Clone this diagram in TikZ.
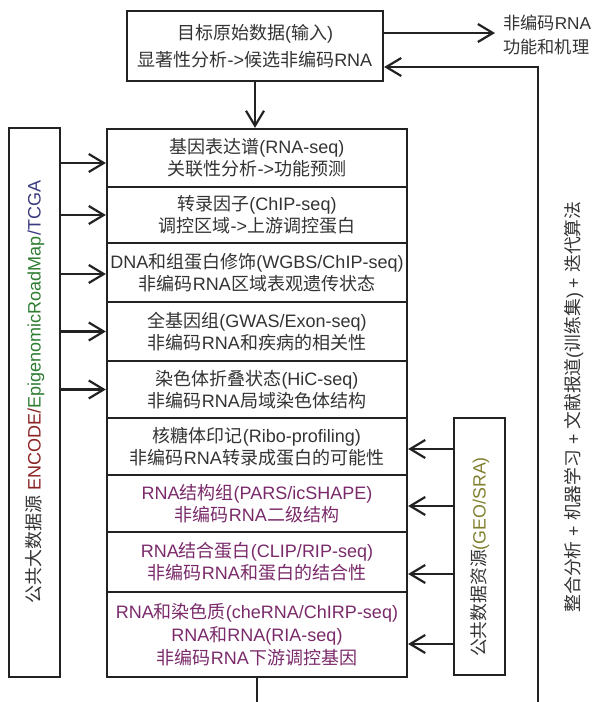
\documentclass[tikz,border=0pt]{standalone}
\usepackage{fontspec}
\setmainfont{Liberation Sans}
\newfontfamily\cjkf{Noto Sans CJK SC}
\usetikzlibrary{arrows.meta,calc}
\definecolor{txt}{HTML}{333333}
\definecolor{pur}{HTML}{7A2A6A}
\definecolor{enc}{HTML}{8B2323}
\definecolor{epi}{HTML}{2E7D32}
\definecolor{tcg}{HTML}{3B3B80}
\definecolor{geoc}{HTML}{7F7F2E}
\definecolor{ln}{HTML}{222222}
\newcommand\C[1]{{\cjkf #1}}
\begin{document}
\begin{tikzpicture}[x=1pt,y=-1pt,
  box/.style={draw=ln,line width=2.2pt,inner sep=0pt,align=center,text=txt,font=\fontsize{18}{22}\selectfont},
  lbl/.style={inner sep=0pt,align=center,text=txt,font=\fontsize{17.8}{22}\selectfont},
  arr/.style={draw=ln,line width=2.2pt,-{Straight Barb[length=15pt,width=18pt]}},
  conn/.style={draw=ln,line width=2.2pt}]
\useasboundingbox (0,0) rectangle (594,702);

% top box
\node[box,minimum width=256pt,minimum height=70pt,font=\fontsize{18}{27}\selectfont] (top) at (255,46)
  {\C{目标原始数据}(\C{输入})\\\C{显著性分析}->\C{候选非编码}RNA};

% output text
\node[lbl,anchor=west,align=left,font=\fontsize{17.2}{24}\selectfont] (out) at (503,35)
  {\C{非编码}RNA\\\C{功能和机理}};

% column rows
\node[box,minimum width=300pt,minimum height=58pt] (r1) at (257,158)
  {\C{基因表达谱}(RNA-seq)\\\C{关联性分析}->\C{功能预测}};
\node[box,minimum width=300pt,minimum height=56pt] (r2) at (257,215)
  {\C{转录因子}(ChIP-seq)\\\C{调控区域}->\C{上游调控蛋白}};
\node[box,minimum width=300pt,minimum height=59pt] (r3) at (257,272.5)
  {DNA\C{和组蛋白修饰}(WGBS/ChIP-seq)\\\C{非编码}RNA\C{区域表观遗传状态}};
\node[box,minimum width=300pt,minimum height=59pt] (r4) at (257,331.5)
  {\C{全基因组}(GWAS/Exon-seq)\\\C{非编码}RNA\C{和疾病的相关性}};
\node[box,minimum width=300pt,minimum height=57pt] (r5) at (257,389.5)
  {\C{染色体折叠状态}(HiC-seq)\\\C{非编码}RNA\C{局域染色体结构}};
\node[box,minimum width=300pt,minimum height=57pt] (r6) at (257,446.5)
  {\C{核糖体印记}(Ribo-profiling)\\\C{非编码}RNA\C{转录成蛋白的可能性}};
\node[box,minimum width=300pt,minimum height=57pt,text=pur] (r7) at (257,503.5)
  {RNA\C{结构组}(PARS/icSHAPE)\\\C{非编码}RNA\C{二级结构}};
\node[box,minimum width=300pt,minimum height=60pt,text=pur] (r8) at (257,562)
  {RNA\C{结合蛋白}(CLIP/RIP-seq)\\\C{非编码}RNA\C{和蛋白的结合性}};
\node[box,minimum width=300pt,minimum height=85pt,text=pur,font=\fontsize{18}{23}\selectfont] (r9) at (257,634.5)
  {RNA\C{和染色质}(cheRNA/ChIRP-seq)\\RNA\C{和}RNA(RIA-seq)\\\C{非编码}RNA\C{下游调控基因}};

% left source box
\node[box,minimum width=51pt,minimum height=549pt] (src) at (34.5,402.5) {};
\node[lbl,rotate=90,font=\fontsize{18}{22}\selectfont] (srct) at (35,392)
  {\C{公共大数据源} \textcolor{enc}{ENCODE/}\textcolor{epi}{EpigenomicRoadMap}\textcolor{tcg}{/TCGA}};

% GEO box
\node[box,minimum width=51pt,minimum height=257pt] (geo) at (479.5,546.5) {};
\node[lbl,rotate=90] (geot) at (480,557)
  {\C{公共数据资源}\textcolor{geoc}{(GEO/SRA)}};

% right vertical text
\node[lbl,rotate=90] (iter) at (574,407)
  {\C{整合分析} + \C{机器学习} + \C{文献报道}(\C{训练集}) + \C{迭代算法}};

% loop coordinates
\coordinate (loopb) at (538,702);
\coordinate (colb) at (257,702);

% connectors
\draw[arr] (top.south) -- (top.south |- r1.north);
\draw[arr] (top.east |- 0,33) -- ($(out.west |- 0,33)+(-8,0)$);
\draw[arr] (loopb) -- (loopb |- 0,67) -- (top.east |- 0,67);
\draw[conn] (r9.south) -- (colb);

\draw[arr] (src.east |- 0,163) -- (r1.west |- 0,163);
\draw[arr] (src.east |- r2.west) -- (r2.west);
\draw[arr] (src.east |- 0,274) -- (r3.west |- 0,274);
\draw[arr] (src.east |- r4.west) -- (r4.west);
\draw[arr] (src.east |- r5.west) -- (r5.west);

\draw[arr] (geo.west |- 0,449) -- (r6.east |- 0,449);
\draw[arr] (geo.west |- 0,506) -- (r7.east |- 0,506);
\draw[arr] (geo.west |- 0,574) -- (r8.east |- 0,574);
\draw[arr] (geo.west |- 0,644) -- (r9.east |- 0,644);
\end{tikzpicture}
\end{document}
